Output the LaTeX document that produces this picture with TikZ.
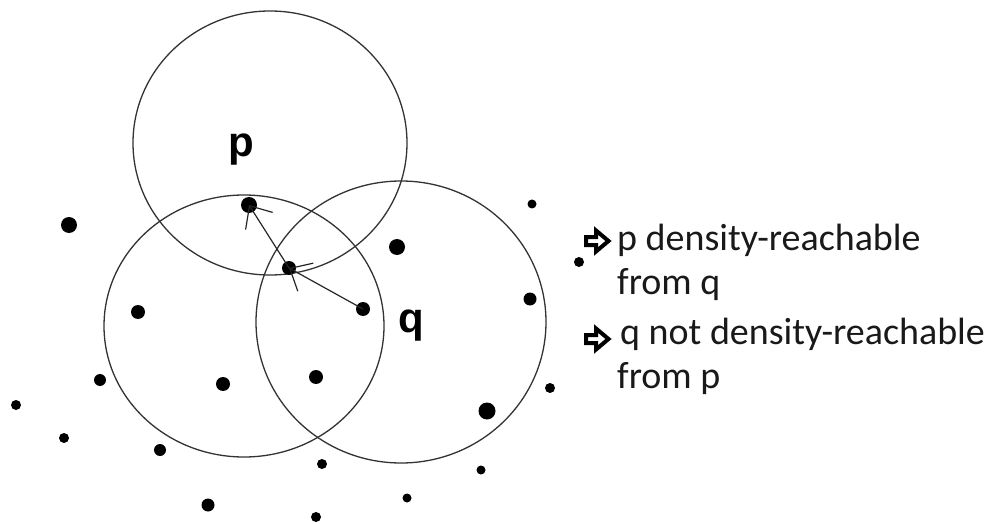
\documentclass[tikz,border=0pt]{standalone}
\usepackage{fontspec}
\setmainfont{Carlito}
\newfontfamily\labelfont{Liberation Sans}
\usetikzlibrary{arrows.meta}

\tikzset{
  ring/.style={draw=black!80, line width=1.3pt},
  datapt/.style={circle, fill=black, inner sep=0pt, minimum size=#1},
  datapt/.default=13pt,
  reach/.style={draw=black!85, line width=1.2pt,
    -{Straight Barb[length=18pt, width=32pt, line width=1.2pt]}},
  bullet/.style={draw=black, fill=white, line width=4pt, line join=miter},
  ptlabel/.style={font=\labelfont\bfseries\fontsize{42}{42}\selectfont},
  note/.style={anchor=base west, inner sep=0pt,
    font=\fontsize{38}{44}\selectfont, text=black!90}
}

\begin{document}
\begin{tikzpicture}[x=1pt, y=-1pt]
  \useasboundingbox (0,0) rectangle (994,524);

  % eps-neighbourhoods
  \draw[ring] (270,143) ellipse [x radius=137, y radius=132];
  \draw[ring] (244,326) ellipse [x radius=140, y radius=131];
  \draw[ring] (401,322) ellipse [x radius=145, y radius=141];

  % core chain p <- m <- q
  \node[datapt=16pt] (p) at (249,205) {};
  \node[datapt=14pt] (m) at (289,268) {};
  \node[datapt=14pt] (q) at (363,309) {};

  % remaining points
  \node[datapt=16pt] (a1) at (69,225) {};
  \node[datapt=14pt] (a2) at (138,312) {};
  \node[datapt=12pt] (a3) at (100,380) {};
  \node[datapt=10pt] (a4) at (16,405) {};
  \node[datapt=10pt] (a5) at (64,438) {};
  \node[datapt=12pt] (a6) at (160,450) {};
  \node[datapt=14pt] (a7) at (223,384) {};
  \node[datapt=14pt] (a8) at (316,377) {};
  \node[datapt=10pt] (a9) at (322,464) {};
  \node[datapt=13pt] (a10) at (208,505) {};
  \node[datapt=10pt] (a11) at (316,517) {};
  \node[datapt=16pt] (a12) at (397,247) {};
  \node[datapt=9pt] (a13) at (532,204) {};
  \node[datapt=10pt] (a14) at (579,262) {};
  \node[datapt=13pt] (a15) at (530,299) {};
  \node[datapt=10pt] (a16) at (550,388) {};
  \node[datapt=17pt] (a17) at (487,411) {};
  \node[datapt=9pt] (a18) at (481,470) {};
  \node[datapt=9pt] (a19) at (407,498) {};

  % reachability arrows
  \draw[reach] (q.center) -- (m.center);
  \draw[reach] (m.center) -- (p.center);

  % point labels
  \node[ptlabel] (plab) at (241,150) {p};
  \node[ptlabel] (qlab) at (411,326) {q};

  % statements with outlined arrow bullets
  \coordinate (b1) at (597,241);
  \coordinate (b2) at (597,339);
  \foreach \b in {b1,b2}
    \draw[bullet] ([shift={(-11,-4)}]\b) -- ([shift={(-1,-4)}]\b)
      -- ([shift={(-1,-10.5)}]\b) -- ([shift={(11.5,0)}]\b)
      -- ([shift={(-1,10.5)}]\b) -- ([shift={(-1,4)}]\b)
      -- ([shift={(-11,4)}]\b) -- cycle;
  \node[note] (t1a) at (617,250) {p density-reachable};
  \node[note] (t1b) at (617,294) {from q};
  \node[note] (t2a) at (620,344) {q not density-reachable};
  \node[note] (t2b) at (617,388) {from p};
\end{tikzpicture}
\end{document}
